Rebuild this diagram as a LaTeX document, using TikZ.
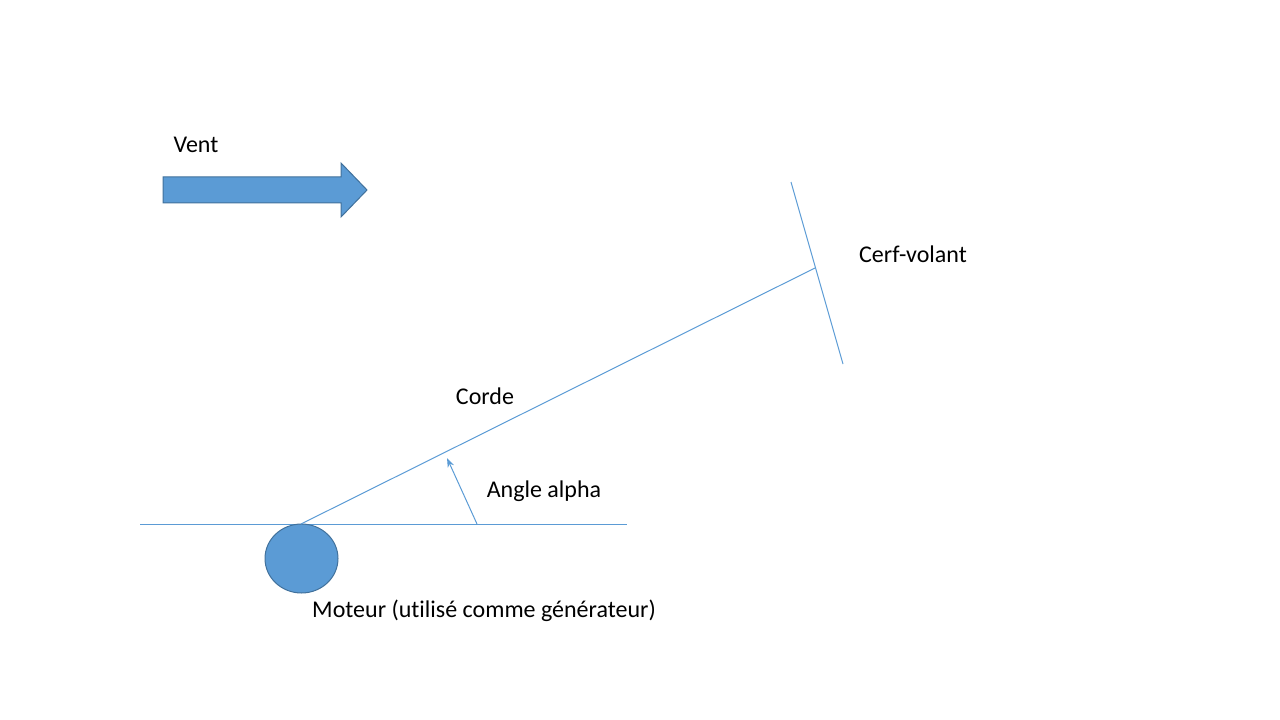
\documentclass[tikz,border=0pt]{standalone}
\usepackage{fontspec}
\setmainfont[Ligatures=NoCommon]{Carlito}
\usetikzlibrary{arrows.meta,shapes.geometric}
\definecolor{ablue}{HTML}{5B9BD5}
\definecolor{dblue}{HTML}{41719C}
\tikzset{
  lbl/.style={font=\fontsize{18pt}{21pt}\selectfont, text=black, inner sep=0pt},
  thin line/.style={draw=ablue, line width=0.75pt},
}
\begin{document}
\begin{tikzpicture}[x=0.75pt,y=-0.75pt]
\useasboundingbox (0,0) rectangle (1280,720);
% wind arrow
\draw[line width=0.75pt, fill=ablue, draw=dblue]
  (163,177) -- (341,177) -- (341,163) -- (367,190) -- (341,217) -- (341,203) -- (163,203) -- cycle;
\node[lbl] (vent) at (196,145) {Vent};
% ground line
\coordinate (g1) at (140,524);
\coordinate (g2) at (627,524);
\draw[thin line] (g1) -- (g2);
% motor
\node[draw=dblue, fill=ablue, line width=0.75pt, ellipse, minimum width=54.75pt, minimum height=51.75pt, inner sep=0pt] (motor) at (301.5,558.5) {};
% cord
\coordinate (base) at (301,524);
\coordinate (kitec) at (815,268);
\draw[thin line] (base) -- (kitec);
% kite
\coordinate (k1) at (791,182);
\coordinate (k2) at (843,364);
\draw[thin line] (k1) -- (k2);
% angle arrow
\coordinate (a1) at (477,524);
\coordinate (a2) at (447,458);
\draw[thin line, -{Stealth[length=7pt,width=5pt]}, ablue] (a1) -- (a2);
% labels
\node[lbl] (corde) at (485,396) {Corde};
\node[lbl] (angle) at (544,491) {Angle alpha};
\node[lbl] (kite) at (913,254) {Cerf-volant};
\node[lbl] (moteur) at (484,611) {Moteur (utilisé comme générateur)};
\end{tikzpicture}
\end{document}
